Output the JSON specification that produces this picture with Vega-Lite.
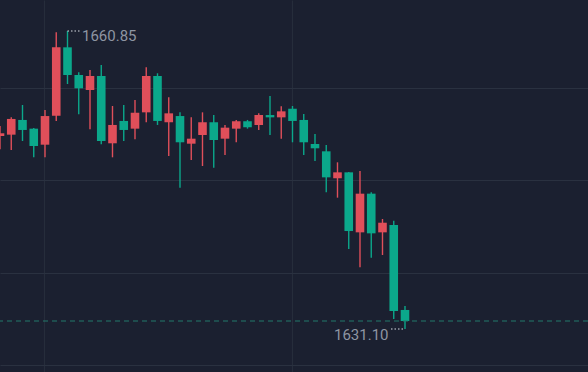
{
  "$schema": "https://vega.github.io/schema/vega-lite/v6.json",
  "width": 588,
  "height": 372,
  "autosize": {"type": "none"},
  "padding": 0,
  "background": "#1b2030",
  "config": {"view": {"stroke": null}, "axis": {"gridColor": "#2a3140", "gridWidth": 1.2, "domain": false, "ticks": false, "labels": false, "title": null}},
  "datasets": {
    "candles": [
      {"t": 0, "o": 1650.37, "h": 1651.37, "l": 1649.04, "c": 1650.64},
      {"t": 1, "o": 1650.50, "h": 1652.23, "l": 1648.97, "c": 1652.07},
      {"t": 2, "o": 1651.97, "h": 1653.46, "l": 1649.87, "c": 1650.97},
      {"t": 3, "o": 1651.10, "h": 1651.17, "l": 1648.24, "c": 1649.37},
      {"t": 4, "o": 1649.50, "h": 1652.96, "l": 1648.24, "c": 1652.36},
      {"t": 5, "o": 1652.39, "h": 1660.72, "l": 1651.87, "c": 1659.22},
      {"t": 6, "o": 1659.22, "h": 1660.85, "l": 1655.56, "c": 1656.46},
      {"t": 7, "o": 1656.46, "h": 1656.73, "l": 1652.53, "c": 1655.13},
      {"t": 8, "o": 1654.96, "h": 1656.96, "l": 1651.04, "c": 1656.36},
      {"t": 9, "o": 1656.36, "h": 1657.46, "l": 1649.54, "c": 1649.87},
      {"t": 10, "o": 1649.64, "h": 1653.36, "l": 1648.24, "c": 1651.47},
      {"t": 11, "o": 1651.87, "h": 1653.46, "l": 1649.87, "c": 1650.97},
      {"t": 12, "o": 1651.10, "h": 1653.96, "l": 1650.04, "c": 1652.69},
      {"t": 13, "o": 1652.73, "h": 1657.23, "l": 1651.74, "c": 1656.36},
      {"t": 14, "o": 1656.36, "h": 1656.63, "l": 1651.47, "c": 1651.87},
      {"t": 15, "o": 1651.74, "h": 1654.23, "l": 1648.37, "c": 1652.63},
      {"t": 16, "o": 1652.36, "h": 1652.73, "l": 1645.21, "c": 1649.74},
      {"t": 17, "o": 1649.60, "h": 1652.23, "l": 1647.97, "c": 1650.10},
      {"t": 18, "o": 1650.47, "h": 1652.73, "l": 1647.37, "c": 1651.74},
      {"t": 19, "o": 1651.74, "h": 1652.46, "l": 1647.20, "c": 1649.97},
      {"t": 20, "o": 1650.10, "h": 1651.47, "l": 1648.47, "c": 1651.20},
      {"t": 21, "o": 1651.10, "h": 1651.97, "l": 1649.74, "c": 1651.84},
      {"t": 22, "o": 1651.84, "h": 1651.97, "l": 1651.10, "c": 1651.24},
      {"t": 23, "o": 1651.47, "h": 1652.63, "l": 1650.97, "c": 1652.46},
      {"t": 24, "o": 1652.46, "h": 1654.36, "l": 1650.47, "c": 1652.23},
      {"t": 25, "o": 1652.23, "h": 1653.33, "l": 1650.10, "c": 1652.83},
      {"t": 26, "o": 1653.09, "h": 1653.36, "l": 1649.74, "c": 1651.87},
      {"t": 27, "o": 1651.97, "h": 1652.56, "l": 1648.47, "c": 1649.74},
      {"t": 28, "o": 1649.57, "h": 1650.57, "l": 1647.87, "c": 1649.14},
      {"t": 29, "o": 1648.84, "h": 1649.47, "l": 1644.75, "c": 1646.24},
      {"t": 30, "o": 1646.15, "h": 1647.74, "l": 1644.21, "c": 1646.74},
      {"t": 31, "o": 1646.74, "h": 1646.77, "l": 1639.09, "c": 1640.88},
      {"t": 32, "o": 1640.75, "h": 1646.87, "l": 1637.26, "c": 1644.61},
      {"t": 33, "o": 1644.61, "h": 1644.75, "l": 1638.22, "c": 1640.65},
      {"t": 34, "o": 1640.75, "h": 1642.08, "l": 1638.49, "c": 1641.71},
      {"t": 35, "o": 1641.48, "h": 1641.91, "l": 1632.10, "c": 1632.90},
      {"t": 36, "o": 1633.00, "h": 1633.40, "l": 1631.10, "c": 1631.90}
    ]
  },
  "data": {"name": "candles"},
  "encoding": {
    "x": {"field": "t", "type": "quantitative", "scale": {"domain": [0, 52.267], "nice": false, "zero": false, "padding": 0},
          "axis": {"values": [3.95, 25.95], "grid": true, "gridColor": "#262d3b"}},
    "color": {"condition": {"test": "datum.c > datum.o", "value": "#e04f5a"}, "value": "#0ba88b"}
  },
  "layer": [
    {
      "mark": {"type": "rule", "strokeWidth": 1.4},
      "encoding": {
        "y": {"field": "l", "type": "quantitative", "scale": {"domain": [1626.807, 1663.945], "nice": false, "zero": false, "padding": 0},
              "axis": {"values": [1655.11, 1645.95, 1636.69, 1627.48], "grid": true}},
        "y2": {"field": "h"}
      }
    },
    {
      "mark": {"type": "bar", "width": 8.6},
      "encoding": {
        "y": {"field": "o", "type": "quantitative"},
        "y2": {"field": "c"}
      }
    },
    {
      "transform": [{"filter": "datum.t == 36"}],
      "mark": {"type": "rule", "strokeDash": [5, 4], "strokeWidth": 1.2, "color": "#22786a"},
      "encoding": {"y": {"field": "c", "type": "quantitative"}, "x": null, "color": null}
    },
    {
      "transform": [{"filter": "datum.t == 6"}],
      "mark": {"type": "rule", "strokeDash": [1.5, 2], "strokeWidth": 1.2, "color": "#d8dce3", "x2Offset": 13},
      "encoding": {"y": {"field": "h", "type": "quantitative"}, "x2": {"field": "t"}, "color": null}
    },
    {
      "transform": [{"filter": "datum.t == 6"}],
      "mark": {"type": "text", "align": "left", "baseline": "middle", "dx": 14.5, "dy": 5, "font": "Roboto", "fontSize": 15, "color": "#8e95a2"},
      "encoding": {"y": {"field": "h", "type": "quantitative"}, "text": {"field": "h", "type": "quantitative", "format": ".2f"}, "color": null}
    },
    {
      "transform": [{"filter": "datum.t == 36"}],
      "mark": {"type": "rule", "strokeDash": [1.5, 2], "strokeWidth": 1.2, "color": "#d8dce3", "xOffset": -14},
      "encoding": {"y": {"field": "l", "type": "quantitative"}, "x2": {"field": "t"}, "color": null}
    },
    {
      "transform": [{"filter": "datum.t == 36"}],
      "mark": {"type": "text", "align": "right", "baseline": "middle", "dx": -16.5, "dy": 6, "font": "Roboto", "fontSize": 15, "color": "#8e95a2"},
      "encoding": {"y": {"field": "l", "type": "quantitative"}, "text": {"field": "l", "type": "quantitative", "format": ".2f"}, "color": null}
    }
  ]
}
